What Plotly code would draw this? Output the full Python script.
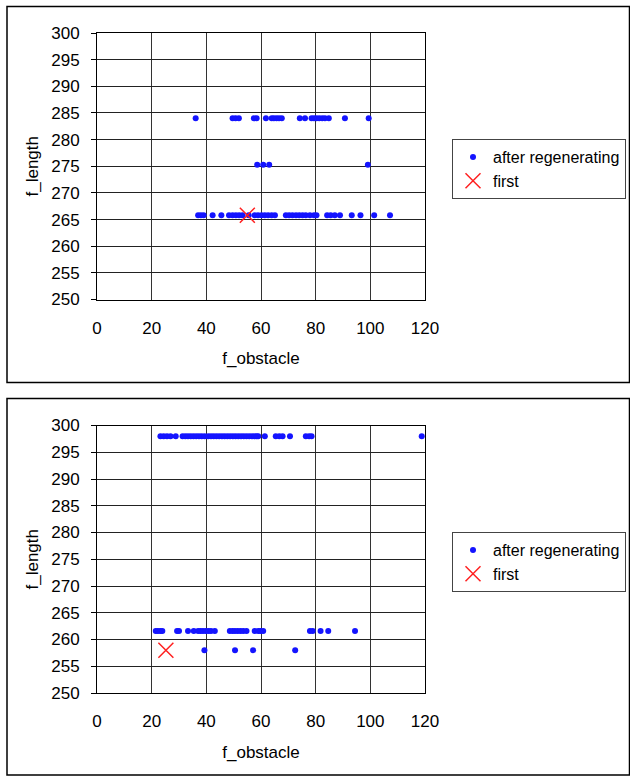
import plotly.graph_objects as go

# ---------------- data ----------------
top_row1_y = 284.0
top_row1_x = [36.1, 49.6, 50.7, 51.9, 57.4, 58.4, 61.8, 63.9, 64.7, 65.7, 66.6, 67.6,
              74.2, 76.1, 78.5, 79.4, 80.3, 81.3, 82.4, 83.4, 84.8, 90.7, 99.4]
top_row2_y = 275.3
top_row2_x = [58.6, 60.8, 63.0, 99.1]
top_row3_y = 265.8
top_row3_x = [37.0, 38.0, 39.0, 42.3, 45.5, 48.3, 49.6, 50.8, 52.0, 53.2, 55.5, 57.7, 58.9,
              60.2, 61.4, 62.6, 63.9, 65.1, 69.1, 70.3, 71.5, 72.8, 74.0, 75.2, 76.4,
              77.9, 79.4, 80.3, 84.2, 85.5, 87.0, 88.9, 93.2, 96.4, 101.4, 107.2]
top_first_x = [55.0]
top_first_y = [265.8]

bot_row1_y = 298.0
bot_row1_x = [23.2, 24.4, 25.6, 26.9, 28.8, 31.3, 32.3, 33.3, 34.3, 35.3, 36.3, 37.3, 38.3,
              39.4, 40.7, 41.7, 42.7, 43.7, 44.7, 45.7, 46.7, 47.7, 48.7, 49.7, 50.7, 51.7,
              52.7, 53.7, 54.7, 55.7, 56.7, 57.6, 58.4, 59.0, 61.4, 65.4, 66.7, 67.9, 70.6,
              76.4, 77.6, 78.5, 118.8]
bot_row2_y = 261.6
bot_row2_x = [21.5, 22.3, 23.2, 23.9, 29.3, 30.0, 33.3, 35.4, 37.0, 37.9, 38.8, 39.8, 40.8,
              41.7, 43.1, 48.6, 49.6, 50.5, 51.5, 52.5, 53.5, 54.7, 57.7, 59.0, 59.8, 60.8,
              77.9, 78.9, 81.8, 84.6, 94.4]
bot_row3_y = 258.0
bot_row3_x = [39.3, 50.5, 57.1, 72.5]
bot_first_x = [25.2]
bot_first_y = [258.0]

x_ticks = [0, 20, 40, 60, 80, 100, 120]
y_ticks = [250, 255, 260, 265, 270, 275, 280, 285, 290, 295, 300]

series_name = "after regenerating"
first_name = "first"

# ---------------- figure ----------------
W, H = 630, 776
FONT = "Liberation Sans"
BLUE = "#1414FF"
RED = "#FF2020"

def rows(xs_list, ys_list):
    X, Y = [], []
    for xs, yv in zip(xs_list, ys_list):
        X += xs
        Y += [yv] * len(xs)
    return X, Y

tx, ty = rows([top_row1_x, top_row2_x, top_row3_x], [top_row1_y, top_row2_y, top_row3_y])
bx, by = rows([bot_row1_x, bot_row2_x, bot_row3_x], [bot_row1_y, bot_row2_y, bot_row3_y])

fig = go.Figure()
dot = dict(color=BLUE, size=6, symbol="circle")
cross = dict(color=RED, size=15, symbol="x-thin", line=dict(color=RED, width=1.5))

fig.add_trace(go.Scatter(x=tx, y=ty, mode="markers", marker=dot, name=series_name,
                         xaxis="x", yaxis="y", legend="legend"))
fig.add_trace(go.Scatter(x=top_first_x, y=top_first_y, mode="markers", marker=cross,
                         name=first_name, xaxis="x", yaxis="y", legend="legend"))
fig.add_trace(go.Scatter(x=bx, y=by, mode="markers", marker=dot, name=series_name,
                         xaxis="x2", yaxis="y2", legend="legend2"))
fig.add_trace(go.Scatter(x=bot_first_x, y=bot_first_y, mode="markers", marker=cross,
                         name=first_name, xaxis="x2", yaxis="y2", legend="legend2"))

def px_x(p):
    return p / W

def px_y(p):
    return 1 - p / H

xdom = [px_x(97), px_x(425)]
top_dom = [px_y(299.5), px_y(33)]
bot_dom = [px_y(693), px_y(425.5)]

axfont = dict(family=FONT, size=17, color="#000")

def xaxis(dom_anchor):
    return dict(domain=xdom, anchor=dom_anchor, range=[0, 120], tickvals=x_ticks,
                showgrid=True, gridcolor="#333", gridwidth=1, zeroline=False,
                showline=True, linecolor="#000", linewidth=1, mirror=True,
                ticks="", ticklabelstandoff=13, tickfont=axfont,
                title=dict(text="f_obstacle", font=axfont, standoff=15), fixedrange=True)

def yaxis(dom, anchor):
    return dict(domain=dom, anchor=anchor, range=[250, 300], tickvals=y_ticks,
                showgrid=True, gridcolor="#222", gridwidth=1, zeroline=False,
                showline=True, linecolor="#000", linewidth=1, mirror=True,
                ticks="outside", ticklen=5, tickcolor="#000", ticklabelstandoff=8,
                tickfont=axfont,
                title=dict(text="f_length", font=axfont, standoff=8), fixedrange=True)

leg_common = dict(bgcolor="#fff", bordercolor="#444", borderwidth=1,
                  font=dict(family=FONT, size=16, color="#000"),
                  xanchor="left", yanchor="top", tracegroupgap=0,
                  itemwidth=30)

fig.update_layout(
    width=W, height=H,
    margin=dict(l=0, r=0, t=0, b=0, autoexpand=False),
    paper_bgcolor="#fff", plot_bgcolor="#fff",
    font=dict(family=FONT, color="#000"),
    xaxis=xaxis("y"), yaxis=yaxis(top_dom, "x"),
    xaxis2=xaxis("y2"), yaxis2=yaxis(bot_dom, "x2"),
    legend=dict(x=px_x(452), y=px_y(139), **leg_common),
    legend2=dict(x=px_x(452), y=px_y(532), **leg_common),
    showlegend=True,
    shapes=[
        dict(type="rect", xref="paper", yref="paper",
             x0=px_x(7), x1=px_x(629.5), y0=px_y(382.5), y1=px_y(6.5),
             line=dict(color="#000", width=1.5), layer="below"),
        dict(type="rect", xref="paper", yref="paper",
             x0=px_x(7), x1=px_x(629.5), y0=px_y(775), y1=px_y(398.5),
             line=dict(color="#000", width=1.5), layer="below"),
    ],
)

fig.write_html("out.html")
